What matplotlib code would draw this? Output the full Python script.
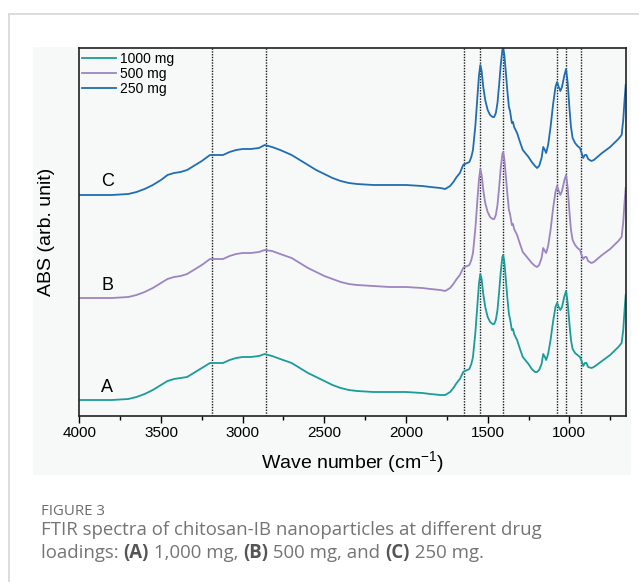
import numpy as np
import matplotlib
matplotlib.use("Agg")
import matplotlib.pyplot as plt
from matplotlib.patches import Rectangle
from matplotlib.lines import Line2D
from matplotlib.ticker import MultipleLocator

plt.rcParams['font.family'] = ['Liberation Sans', 'DejaVu Sans']
plt.rcParams['mathtext.default'] = 'regular'

# wave numbers (cm-1) and relative absorbance
wn = [4000, 3800, 3700, 3650, 3600, 3550, 3500, 3460, 3420, 3380,
      3340, 3300, 3250, 3200, 3160, 3120, 3080, 3040, 3000, 2950,
      2900, 2865,
      2820, 2770, 2700, 2650, 2600, 2550, 2500, 2450, 2400, 2350,
      2300, 2200, 2100, 2000, 1900, 1850, 1790,
      1760, 1730, 1710, 1690, 1670, 1650, 1640, 1625, 1612, 1600,
      1590, 1575, 1562, 1553, 1545, 1537, 1527, 1515, 1500, 1485,
      1470, 1460, 1450, 1440, 1430, 1420, 1410, 1405, 1398, 1390,
      1380, 1370, 1363, 1352, 1345, 1338, 1320, 1300, 1285, 1265,
      1250, 1230, 1210, 1198, 1185, 1170, 1160, 1150, 1142, 1130,
      1115, 1100, 1085, 1075, 1065, 1055, 1045, 1030, 1020, 1010,
      1000, 990, 980, 965, 950, 935, 925, 915, 905, 895,
      885, 865, 850, 800, 750, 700, 680, 670, 662, 655]

abs_1000 = [0, 0, 1, 3, 6, 10, 15, 19, 21, 22,
            23, 27, 32, 37, 37, 37, 40, 42, 43, 43,
            44, 46,
            44, 41, 37, 32, 27, 23, 19, 15, 12, 10,
            9, 8, 8, 8, 7, 6, 5,
            5, 8, 12, 17, 21, 28, 29, 30, 31, 36,
            43, 68, 97, 117, 126, 121, 106, 93, 83, 78,
            76, 76, 80, 90, 108, 128, 143, 145, 138, 123,
            103, 86, 81, 70, 71, 66, 60, 50, 43, 39,
            36, 31, 28, 28, 30, 36, 46, 43, 40, 46,
            60, 78, 93, 97, 93, 90, 93, 104, 109, 97,
            77, 60, 51, 47, 45, 43, 39, 34, 37, 37,
            33, 32, 33, 39, 45, 53, 57, 70, 90, 105]

abs_500 = [0, 0, 1, 3, 6, 10, 15, 19, 21, 22,
           24, 28, 33, 39, 39, 39, 42, 44, 45, 45,
           46, 48,
           47, 44, 40, 35, 30, 26, 22, 19, 16, 14,
           13, 12, 11, 11, 10, 9, 8,
           7, 10, 14, 19, 23, 30, 31, 32, 33, 38,
           45, 70, 100, 119, 129, 123, 108, 95, 86, 81,
           79, 79, 83, 93, 110, 130, 144, 146, 139, 124,
           105, 88, 84, 73, 74, 69, 63, 53, 46, 42,
           39, 35, 32, 31, 33, 40, 50, 47, 45, 52,
           68, 89, 106, 112, 107, 103, 107, 118, 123, 110,
           87, 68, 58, 53, 50, 48, 43, 39, 41, 41,
           37, 35, 36, 43, 49, 57, 61, 76, 96, 110]

abs_250 = [0, 0, 1, 3, 6, 10, 15, 20, 22, 23,
           25, 29, 34, 40, 40, 40, 43, 45, 46, 46,
           47, 50,
           48, 45, 40, 35, 30, 25, 21, 17, 14, 12,
           11, 10, 10, 10, 9, 8, 7,
           6, 9, 13, 18, 22, 30, 31, 32, 33, 38,
           45, 70, 100, 120, 130, 124, 108, 95, 85, 80,
           78, 78, 82, 92, 110, 130, 145, 147, 140, 125,
           105, 88, 84, 72, 73, 68, 62, 52, 45, 41,
           38, 33, 29, 27, 29, 37, 48, 45, 42, 50,
           68, 90, 108, 113, 108, 104, 108, 120, 126, 112,
           88, 68, 57, 52, 49, 47, 42, 37, 40, 40,
           36, 34, 35, 42, 48, 56, 60, 75, 95, 110]

labels = ['1000 mg', '500 mg', '250 mg']
letters = ['A', 'B', 'C']
offsets = [16, 118, 221]
colors = ['#1a9c98', '#9c85c0', '#1f6db3']
bands = [3190, 2860, 1645, 1545, 1405, 1073, 1018, 930]

W, H = 639, 582
fig = plt.figure(figsize=(W / 100, H / 100), dpi=100)

# card outline and image panel
fig.add_artist(Rectangle((33 / W, 1 - 475 / H), (631 - 33) / W, (475 - 47) / H,
                         transform=fig.transFigure, facecolor='#f7f8f8',
                         edgecolor='none', zorder=0))
fig.add_artist(Line2D([9 / W, 1], [1 - 14 / H] * 2, color='#d9d9d9', lw=1.3))
fig.add_artist(Line2D([9 / W] * 2, [0, 1 - 14 / H], color='#d9d9d9', lw=1.3))

ax = fig.add_axes([79.3 / W, 1 - 416 / H, (625.7 - 79.3) / W, (416 - 48) / H])
ax.set_facecolor('none')

for v in bands:
    ax.axvline(v, color='#1a1a1a', ls=(0, (1, 1)), lw=1.0, zorder=1)

series = [abs_1000, abs_500, abs_250]
for vals, off, c, lab in zip(series, offsets, colors, labels):
    ax.plot(wn, np.array(vals) + off, color=c, lw=1.3, label=lab, zorder=2)

for let, off in zip(letters, offsets):
    ax.text(3830, off + 13, let, fontsize=13, ha='center', va='center')

ax.set_xlim(4000, 655)
ax.set_ylim(0, 368)
ax.set_yticks([])
ax.set_xticks([4000, 3500, 3000, 2500, 2000, 1500, 1000])
ax.xaxis.set_minor_locator(MultipleLocator(250))
ax.tick_params(axis='x', which='major', direction='out', length=5, width=1,
               labelsize=11, pad=2.5)
ax.tick_params(axis='x', which='minor', direction='out', length=3, width=1)
for s in ax.spines.values():
    s.set_linewidth(1.2)
    s.set_color('#222222')

ax.set_xlabel('Wave number (cm$^{-1}$)', fontsize=14)
ax.xaxis.set_label_coords(0.5, -0.09)
ax.set_ylabel('ABS (arb. unit)', fontsize=14)
ax.yaxis.set_label_coords(-0.045, 0.5)

ax.legend(loc='upper left', bbox_to_anchor=(0.005, 0.99), frameon=False,
          fontsize=10, borderpad=0, borderaxespad=0, labelspacing=0.08,
          handlelength=2.45, handletextpad=0.3)

# caption
fig.text(41 / W, 1 - 515 / H, 'FIGURE 3', fontsize=10.8, color='#6d6d6d',
         family='Open Sans')

renderer = fig.canvas.get_renderer()


def width_of(s, **kw):
    t = fig.text(0, 0, '|' + s + '|', **kw)
    t2 = fig.text(0, 0, '||', **kw)
    w = t.get_window_extent(renderer).width - t2.get_window_extent(renderer).width
    t.remove()
    t2.remove()
    return w


def rich_line(x, y, parts):
    for s, bold in parts:
        kw = dict(fontsize=13.4, family='Open Sans', fontstretch='normal',
                  weight='bold' if bold else 'normal',
                  color='#555555' if bold else '#747474')
        fig.text(x / W, 1 - y / H, s, **kw)
        x += width_of(s, **kw)


rich_line(41, 535, [('FTIR spectra of chitosan-IB nanoparticles at different drug', False)])
rich_line(41, 558, [('loadings: ', False), ('(A)', True), (' 1,000 mg, ', False),
                    ('(B)', True), (' 500 mg, and ', False), ('(C)', True),
                    (' 250 mg.', False)])

fig.savefig('out.png', dpi=100)
